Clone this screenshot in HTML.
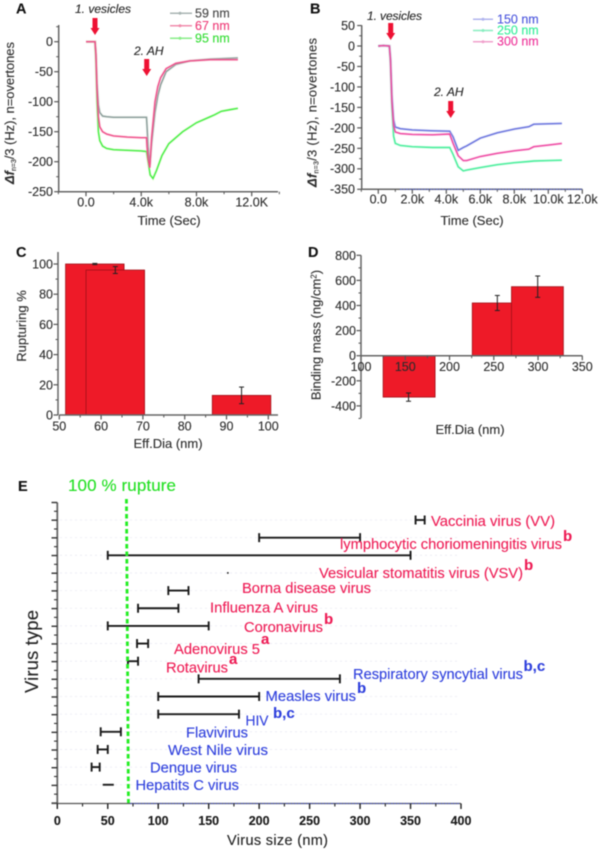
<!DOCTYPE html>
<html>
<head>
<meta charset="utf-8">
<title>Vesicle rupture charts</title>
<style>
html,body{margin:0;padding:0;background:#fff;}
svg{display:block;filter:blur(0.55px);font-family:"Liberation Sans",sans-serif;}
text{fill:#2c2c2c;stroke:#2c2c2c;stroke-width:0.12px;}
.vl{font-size:14.6px;}
.red{fill:#ee1c55;stroke:#ee1c55;}
.blue{fill:#2f40dd;stroke:#2f40dd;}
.sup{font-size:15px;font-weight:bold;}
.ann{font-size:12px;font-style:italic;fill:#222;}
.let{font-size:14.5px;font-weight:bold;fill:#111;}
.tt{font-size:13px;}
</style>
</head>
<body>
<svg id="fig" xmlns="http://www.w3.org/2000/svg" width="600" height="851" viewBox="0 0 600 851">
  <rect x="0" y="0" width="600" height="851" fill="#fff"/>
  <g id="layer"></g>

  <text class="let" x="16" y="13.5">A</text>
  <text class="let" x="310" y="13.5">B</text>
  <text class="let" x="16" y="257">C</text>
  <text class="let" x="308" y="257">D</text>
  <text class="let" x="18" y="491">E</text>

  <text class="ann" x="75" y="13" textLength="56">1. vesicles</text>
  <text class="ann" x="134" y="55">2. AH</text>
  <text class="ann" x="367" y="20" textLength="55">1. vesicles</text>
  <text class="ann" x="434" y="96">2. AH</text>
  <path transform="translate(95,18)" d="M-2.5 0H2.5V10H4.5L0 17L-4.5 10H-2.5Z" fill="#ee1133"/>
  <path transform="translate(146.7,59)" d="M-2.5 0H2.5V10H4.5L0 17L-4.5 10H-2.5Z" fill="#ee1133"/>
  <path transform="translate(390.7,23)" d="M-2.5 0H2.5V10H4.5L0 17L-4.5 10H-2.5Z" fill="#ee1133"/>
  <path transform="translate(450.7,101)" d="M-2.5 0H2.5V10H4.5L0 17L-4.5 10H-2.5Z" fill="#ee1133"/>

  <text class="tt" x="169" y="225" text-anchor="middle">Time (Sec)</text>
  <text class="tt" x="472" y="225" text-anchor="middle">Time (Sec)</text>
  <text class="tt" x="168" y="448" text-anchor="middle">Eff.Dia (nm)</text>
  <text class="tt" x="470" y="434" text-anchor="middle">Eff.Dia (nm)</text>
  <text class="tt" transform="translate(14,184) rotate(-90)" textLength="142"><tspan font-style="italic" font-weight="bold">Δf</tspan><tspan font-size="7" dy="2">n=3</tspan><tspan dy="-2">/3 (Hz), n=overtones</tspan></text>
  <text class="tt" transform="translate(316.5,187) rotate(-90)" textLength="149"><tspan font-style="italic" font-weight="bold">Δf</tspan><tspan font-size="7" dy="2">n=3</tspan><tspan dy="-2">/3 (Hz), n=overtones</tspan></text>
  <text class="tt" transform="translate(26,326) rotate(-90)" text-anchor="middle">Rupturing %</text>
  <text class="tt" transform="translate(320.5,335) rotate(-90)" text-anchor="middle">Binding mass (ng/cm<tspan font-size="8" dy="-4">2</tspan><tspan dy="4">)</tspan></text>

  <text x="68" y="491" font-size="17" style="fill:#22e022;stroke:#22e022" textLength="108">100 % rupture</text>
  <text transform="translate(38,693) rotate(-90)" font-size="18.5" style="fill:#222" textLength="83">Virus type</text>
  <text x="227" y="845" font-size="14.5" style="fill:#222" textLength="101">Virus size (nm)</text>

  <text class="vl red" x="431" y="526" textLength="124" lengthAdjust="spacingAndGlyphs">Vaccinia virus (VV)</text>
  <text class="vl red" x="340" y="549" textLength="222" lengthAdjust="spacingAndGlyphs">lymphocytic choriomeningitis virus</text>
  <text class="sup red" x="563" y="541">b</text>
  <text class="vl red" x="319" y="578" textLength="204" lengthAdjust="spacingAndGlyphs">Vesicular stomatitis virus (VSV)</text>
  <text class="sup red" x="524" y="570">b</text>
  <text class="vl red" x="242" y="593" textLength="129" lengthAdjust="spacingAndGlyphs">Borna disease virus</text>
  <text class="vl red" x="210" y="612.5" textLength="108" lengthAdjust="spacingAndGlyphs">Influenza A virus</text>
  <text class="vl red" x="244" y="632" textLength="79" lengthAdjust="spacingAndGlyphs">Coronavirus</text>
  <text class="sup red" x="324" y="624">b</text>
  <text class="vl red" x="174" y="654" textLength="86" lengthAdjust="spacingAndGlyphs">Adenovirus 5</text>
  <text class="sup red" x="261" y="644">a</text>
  <text class="vl red" x="166" y="672.5" textLength="62" lengthAdjust="spacingAndGlyphs">Rotavirus</text>
  <text class="sup red" x="229" y="664">a</text>
  <text class="vl blue" x="353" y="679" textLength="170" lengthAdjust="spacingAndGlyphs">Respiratory syncytial virus</text>
  <text class="sup blue" x="523.5" y="671">b,c</text>
  <text class="vl blue" x="265.5" y="701" textLength="90.5" lengthAdjust="spacingAndGlyphs">Measles virus</text>
  <text class="sup blue" x="357" y="693">b</text>
  <text class="vl blue" x="245.5" y="725.5" textLength="23" lengthAdjust="spacingAndGlyphs">HIV</text>
  <text class="sup blue" x="273" y="718">b,c</text>
  <text class="vl blue" x="186" y="737.5" textLength="62" lengthAdjust="spacingAndGlyphs">Flavivirus</text>
  <text class="vl blue" x="168" y="755" textLength="100" lengthAdjust="spacingAndGlyphs">West Nile virus</text>
  <text class="vl blue" x="150" y="772.5" textLength="87" lengthAdjust="spacingAndGlyphs">Dengue virus</text>
  <text class="vl blue" x="135.5" y="790" textLength="103.5" lengthAdjust="spacingAndGlyphs">Hepatits C virus</text>
</svg>
<script>
// ---- Panel A data ----
const timeA59 = [0,0.4,0.65,0.72,0.8,0.9,1.0,1.2,1.5,2,3,4,4.38,4.42,4.5,4.62,4.75,5.0,5.2,5.4,5.8,6.5,7.5,9,11];
const valsA59 = [0,0,0,-20,-70,-105,-118,-124,-125,-126,-126,-126,-126,-140,-175,-205,-170,-118,-90,-72,-50,-38,-32,-29,-27];
const timeA67 = [0,0.4,0.65,0.72,0.8,0.9,1.0,1.2,1.5,2,3,4,4.38,4.42,4.5,4.62,4.75,5.0,5.2,5.4,5.8,6.5,7.5,9,11];
const valsA67 = [0,0,0,-20,-80,-125,-142,-150,-154,-157,-159,-160,-160,-175,-195,-210,-160,-100,-75,-60,-45,-36,-32,-30,-30];
const timeA95 = [0,0.4,0.65,0.72,0.8,0.9,1.0,1.2,1.5,2,3,4,4.38,4.5,4.65,4.85,5.1,5.5,6,7,8,9,9.3,9.8,10.5,11];
const valsA95 = [0,0,0,-30,-100,-150,-165,-174,-178,-180,-181,-182,-183,-200,-222,-228,-215,-190,-170,-150,-135,-125,-122,-116,-113,-111];
const ticksAX = ['0.0','4.0k','8.0k','12.0K'];
const ticksAXVal = [0,4,8,12];
const ticksAY = [0,-50,-100,-150,-200,-250];
const legendA = ['59 nm','67 nm','95 nm'];

// ---- Panel B data ----
const timeB = [0,0.3,0.65,0.72,0.8,0.9,1.0,1.3,2,3.2,4.2,4.4,4.7,5.0,5.2,6,7,8,8.85,9.15,10,10.8];
const valsB150 = [0,1,0,-30,-120,-180,-198,-202,-205,-207,-208,-222,-255,-248,-244,-225,-212,-203,-197,-191,-190,-189];
const valsB250 = [0,1,0,-40,-150,-220,-238,-243,-246,-248,-248,-265,-295,-305,-303,-297,-290,-285,-282,-281,-280,-279];
const valsB300 = [0,1,0,-35,-135,-195,-210,-214,-216,-217,-215,-238,-268,-280,-280,-270,-262,-256,-252,-246,-242,-238];
const ticksBX = ['0.0','2.0k','4.0k','6.0k','8.0k','10.0k','12.0k'];
const ticksBXVal = [0,2,4,6,8,10,12];
const ticksBY = [50,0,-50,-100,-150,-200,-250,-300,-350];
const legendB = ['150 nm','250 nm','300 nm'];

// ---- Panel C data ----
const diaC = [58.5,63.4,93.6];
const ruptureC = [100,96,13];
const errC = [0.4,2.3,5.5];
const ticksCX = [50,60,70,80,90,100];
const ticksCY = [0,20,40,60,80,100];

// ---- Panel D data ----
const binLeftD = [125,225.7,270];
const binRightD = [183.7,271,328.6];
const diaD = [153.7,254,299.6];
const massD = [-330,420,550];
const errD = [33,60,85];
const ticksDX = [100,150,200,250,300,350];
const ticksDY = [800,600,400,200,0,-200,-400];

// ---- Panel E data ----
const virusNames = ['vaccinia','lymphocytic','vsv','unlabelled-point','borna','influenza','corona','adeno','rota','rsv','measles','hiv','flavi','west-nile','dengue','hepatitis-c'];
const virusLow  = [355,200,50,169,110,80,50,79,70,140,100,100,43,40,34,45];
const virusHigh = [364,300,350,169,130,120,150,90,80,280,200,180,63,50,42,56];
const virusCaps = [1,1,1,0,1,1,1,1,1,1,1,1,1,1,1,0];
const ticksEX = [0,50,100,150,200,250,300,350,400];
const ruptureSize = [69,71];

const NS = 'http://www.w3.org/2000/svg';
const layer = document.getElementById('layer');

function make(tag, name, attrs) {
  const e = document.createElementNS(NS, tag);
  for (const k in attrs) e.setAttribute(k, attrs[k]);
  
  
  layer.appendChild(e);
  return e;
}
function seg(name, x1, y1, x2, y2, color, w, extra) {
  return make('line', name, Object.assign({x1, y1, x2, y2, stroke: color, 'stroke-width': w}, extra || {}));
}
function label(name, x, y, s, anchor, size, extra) {
  const t = make('text', name, Object.assign({x, y, 'text-anchor': anchor, 'font-size': size}, extra || {}));
  t.textContent = s;
  return t;
}
function linear(d0, d1, r0, r1) {
  return v => r0 + (v - d0) * (r1 - r0) / (d1 - d0);
}
function curve(name, xs, ys, sx, sy, color, pale) {
  const pts = xs.map((t, i) => sx(t).toFixed(1) + ',' + sy(ys[i]).toFixed(1)).join(' ');
  make('polyline', name + '-halo', {points: pts, fill: 'none', stroke: pale, 'stroke-width': 3, opacity: 0.3});
  make('polyline', name, {points: pts, fill: 'none', stroke: color, 'stroke-width': 1.4});
}
function ticksFrom(lo, hi, step) {
  const out = [];
  for (let i = 0; lo + i * step <= hi + 1e-9; i++) out.push(lo + i * step);
  return out;
}
function xAxis(p, sx, y, x0, x1, majors, minors) {
  seg(p + '-x-axis', x0, y, x1, y, '#666', 1.5);
  majors.forEach(v => seg(p + '-x-tick', sx(v), y, sx(v), y + 4.5, '#555', 1.2));
  minors.forEach(v => seg(p + '-x-minor-tick', sx(v), y, sx(v), y + 2.5, '#555', 1));
}
function yAxis(p, sy, x, y0, y1, majors, minors) {
  seg(p + '-y-axis', x, y0, x, y1, '#666', 1.5);
  majors.forEach(v => seg(p + '-y-tick', x - 4.5, sy(v), x, sy(v), '#555', 1.2));
  minors.forEach(v => seg(p + '-y-minor-tick', x - 2.5, sy(v), x, sy(v), '#555', 1));
}

// ---- Panel A ----
const ax = linear(0, 12, 86, 251.7), ay = linear(0, -250, 41.7, 191.7);
curve('series-95-nm', timeA95, valsA95, ax, ay, '#44ee44', '#c8f8a0');
curve('series-59-nm', timeA59, valsA59, ax, ay, '#889a98', '#ccddcc');
curve('series-67-nm', timeA67, valsA67, ax, ay, '#ee4c88', '#ffbbcc');
xAxis('panel-a', ax, 191.7, 58.7, 278, ticksAXVal, ticksFrom(-2, 14, 4));
yAxis('panel-a', ay, 58.7, 25, 191.7, ticksAY, ticksFrom(-225, 25, 50));
ticksAX.forEach((s, i) => label('panel-a-x-tick-label', ax(ticksAXVal[i]), 206.7, s, 'middle', 12.5));
ticksAY.forEach(v => label('panel-a-y-tick-label', 53, ay(v) + 4.4, String(v), 'end', 12.5));
const legAColor = ['#a8b4b2','#f08cac','#88ee88'];
const legATextColor = ['#444','#ee3c78','#33dd33'];
legendA.forEach((s, i) => {
  const y = 13.3 + i * 12.5;
  seg('legend-a-line', 170, y, 192, y, legAColor[i], 1.5);
  make('circle', 'legend-a-marker', {cx: 180, cy: y, r: 1.5, fill: legAColor[i]});
  label('legend-a-entry', 195, y + 4.3, s, 'start', 12.5, {style: 'fill:' + legATextColor[i] + ';stroke:' + legATextColor[i]});
});

// ---- Panel B ----
const bx = linear(0, 12, 378.3, 582.3), by = linear(0, -350, 46, 189.3);
curve('series-150-nm', timeB, valsB150, bx, by, '#6670dd', '#bbc0f0');
curve('series-250-nm', timeB, valsB250, bx, by, '#44ee99', '#aaf8cc');
curve('series-300-nm', timeB, valsB300, bx, by, '#ee44a0', '#f8b0d8');
xAxis('panel-b', bx, 189.3, 361.7, 582.3, ticksBXVal, ticksFrom(-1, 11, 2));
seg('panel-b-x-axis-overlay', 400, 189.3, 582, 189.3, '#5566dd', 0.8, {'stroke-dasharray': '2 1'});
yAxis('panel-b', by, 361.7, 25.3, 189.3, ticksBY, ticksFrom(-325, 25, 50));
ticksBX.forEach((s, i) => label('panel-b-x-tick-label', bx(ticksBXVal[i]), 203.5, s, 'middle', 12.5));
ticksBY.forEach(v => label('panel-b-y-tick-label', 355, by(v) + 4.4, String(v), 'end', 12.5));
const legBColor = ['#b0b4ee','#88eec0','#f0a0cc'];
const legBTextColor = ['#4a55dd','#33ee99','#ee3399'];
legendB.forEach((s, i) => {
  const y = 19.3 + i * 11.2;
  seg('legend-b-line', 473, y, 493, y, legBColor[i], 1.5);
  make('circle', 'legend-b-marker', {cx: 483, cy: y, r: 1.5, fill: legBColor[i]});
  label('legend-b-entry', 497, y + 4, s, 'start', 12.5, {style: 'fill:' + legBTextColor[i] + ';stroke:' + legBTextColor[i]});
});

// ---- Bars ----
function bar(name, sx, sy, left, right, value) {
  const x0 = sx(left), x1 = sx(right);
  const a = sy(value), b = sy(0);
  make('rect', name, {x: x0, y: Math.min(a, b), width: x1 - x0, height: Math.abs(b - a), fill: '#ee1a28', stroke: '#a01018', 'stroke-width': 0.8});
}
function err(name, sx, sy, c, v, e) {
  const x = sx(c);
  seg(name, x, sy(v - e), x, sy(v + e), '#222', 1);
  seg(name + '-cap-low', x - 2.5, sy(v - e), x + 2.5, sy(v - e), '#222', 1);
  seg(name + '-cap-high', x - 2.5, sy(v + e), x + 2.5, sy(v + e), '#222', 1);
}

// ---- Panel C ----
const cx = linear(50, 100, 59.3, 268.3), cy = linear(0, 100, 415, 264);
diaC.forEach((d, i) => bar('rupture-bar', cx, cy, d - 7, d + 7, ruptureC[i]));
diaC.forEach((d, i) => err('rupture-error-bar', cx, cy, d, ruptureC[i], errC[i]));
xAxis('panel-c', cx, 415, 59.3, 278, ticksCX, ticksFrom(55, 95, 10));
yAxis('panel-c', cy, 58, 252, 415, ticksCY, ticksFrom(10, 90, 20));
ticksCX.forEach(v => label('panel-c-x-tick-label', cx(v), 430.7, String(v), 'middle', 12.5));
ticksCY.forEach(v => label('panel-c-y-tick-label', 53, cy(v) + 4.5, String(v), 'end', 12.5));

// ---- Panel D ----
const dx = linear(100, 350, 361, 582.3), dy = linear(0, 800, 355.7, 255.3);
massD.forEach((m, i) => bar('binding-bar', dx, dy, binLeftD[i], binRightD[i], m));
diaD.forEach((d, i) => err('binding-error-bar', dx, dy, d, massD[i], errD[i]));
xAxis('panel-d', dx, 355.7, 361, 582.3, ticksDX, ticksFrom(125, 325, 50));
yAxis('panel-d', dy, 361, 255.3, 418, ticksDY, ticksFrom(-500, 700, 200));
ticksDX.forEach(v => label('panel-d-x-tick-label', dx(v), 371, String(v), 'middle', 12.5));
ticksDY.forEach(v => label('panel-d-y-tick-label', 356, dy(v) + 4.5, String(v), 'end', 12.5));

// ---- Panel E ----
const ex = linear(0, 400, 57.3, 461);
const rowTop = 520, rowStep = 17.65;
function ey(i) { return rowTop + i * rowStep; }
for (let i = 0; i < 16; i++) {
  seg('virus-gridline', 60, ey(i), 458, ey(i), '#e9e9f3', 0.8, {'stroke-dasharray': '2 3'});
}
virusNames.forEach((n, i) => {
  const y = ey(i);
  const x0 = ex(virusLow[i]), x1 = ex(virusHigh[i]);
  if (x1 === x0) {
    make('circle', 'virus-range-' + n, {cx: x0, cy: y, r: 0.9, fill: '#222'});
    return;
  }
  seg('virus-range-' + n, x0, y, x1, y, '#1a1a1a', 1.9);
  if (virusCaps[i]) {
    seg('virus-range-cap-low-' + n, x0, y - 4.5, x0, y + 4.5, '#1a1a1a', 1.9);
    seg('virus-range-cap-high-' + n, x1, y - 4.5, x1, y + 4.5, '#1a1a1a', 1.9);
  }
});
const tickRows = ticksFrom(0, 17, 1);
seg('panel-e-y-axis', 57.3, 502.5, 57.3, 803.5, '#666', 1.8);
tickRows.forEach(i => seg('panel-e-y-tick', 51.5, 502.5 + i * 17.68, 57.3, 502.5 + i * 17.68, '#333', 1.4));
ticksFrom(0, 16, 1).forEach(i => seg('panel-e-y-minor-tick', 54, 511.3 + i * 17.68, 57.3, 511.3 + i * 17.68, '#333', 1.1));
seg('panel-e-x-axis', 51.5, 803.5, 461, 803.5, '#555', 1.3);
seg('panel-e-x-axis-overlay', 130, 803.5, 460, 803.5, '#3344cc', 0.7, {'stroke-dasharray': '2 1'});
ticksEX.forEach(v => seg('panel-e-x-tick', ex(v), 803.5, ex(v), 809, '#222', 1.4));
ticksFrom(25, 375, 50).forEach(v => seg('panel-e-x-minor-tick', ex(v), 803.5, ex(v), 806.5, '#222', 1.1));
ticksEX.forEach(v => label('panel-e-x-tick-label', ex(v), 825, String(v), 'middle', 12.5, {style: 'font-weight:bold;fill:#1a1a1a;stroke:#1a1a1a'}));
seg('rupture-threshold-line', ex(ruptureSize[0]) - 0.5, 499, ex(ruptureSize[1]) - 0.5, 803, '#22ee22', 2.8, {'stroke-dasharray': '4.5 3'});
</script>
</body>
</html>
